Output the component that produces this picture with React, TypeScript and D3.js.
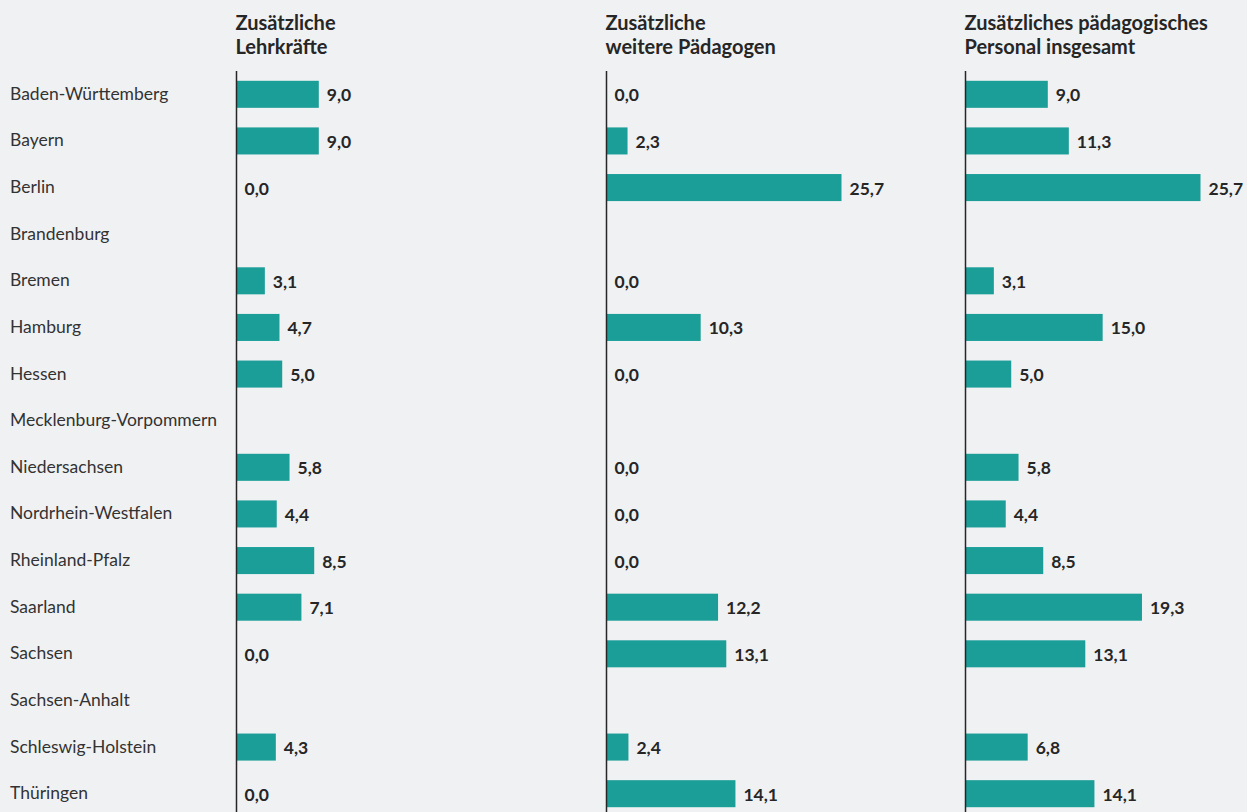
import React, { useRef, useEffect } from 'react';
import * as d3 from 'd3';

const states = [
  'Baden-Württemberg',
  'Bayern',
  'Berlin',
  'Brandenburg',
  'Bremen',
  'Hamburg',
  'Hessen',
  'Mecklenburg-Vorpommern',
  'Niedersachsen',
  'Nordrhein-Westfalen',
  'Rheinland-Pfalz',
  'Saarland',
  'Sachsen',
  'Sachsen-Anhalt',
  'Schleswig-Holstein',
  'Thüringen',
];

// null = no entry for that state
const lehrkraefte = [9.0, 9.0, 0.0, null, 3.1, 4.7, 5.0, null, 5.8, 4.4, 8.5, 7.1, 0.0, null, 4.3, 0.0];
const paedagogen = [0.0, 2.3, 25.7, null, 0.0, 10.3, 0.0, null, 0.0, 0.0, 0.0, 12.2, 13.1, null, 2.4, 14.1];
const insgesamt = [9.0, 11.3, 25.7, null, 3.1, 15.0, 5.0, null, 5.8, 4.4, 8.5, 19.3, 13.1, null, 6.8, 14.1];

const panelTitles = [
  ['Zusätzliche', 'Lehrkräfte'],
  ['Zusätzliche', 'weitere Pädagogen'],
  ['Zusätzliches pädagogisches', 'Personal insgesamt'],
];

const W = 1247;
const H = 812;
const BAR = '#1b9e98';
const INK = '#262626';

const App = () => {
  const ref = useRef<SVGSVGElement>(null);

  useEffect(() => {
    const svg = d3.select(ref.current);
    svg.selectAll('*').remove();

    const font = 'Lato, "Open Sans", sans-serif';
    const series = [lehrkraefte, paedagogen, insgesamt];
    const panelX = [236.5, 606.5, 965.5];

    svg.append('rect').attr('width', W).attr('height', H).attr('fill', '#f0f1f3');

    const y = d3
      .scaleBand()
      .domain(states)
      .range([71, 817])
      .paddingInner(0.42)
      .paddingOuter(0.21);

    // state labels
    svg
      .append('g')
      .selectAll('text')
      .data(states)
      .join('text')
      .attr('x', 10)
      .attr('y', (d) => y(d)! + y.bandwidth() / 2 + 5.5)
      .attr('font-family', font)
      .attr('font-size', 17.5)
      .attr('fill', '#333')
      .text((d) => d);

    const fmt = (v: number) => v.toFixed(1).replace('.', ',');

    series.forEach((vals, i) => {
      const x0 = panelX[i];
      const x = d3.scaleLinear().domain([0, 25.7]).range([x0, x0 + 235]);
      const g = svg.append('g');
      const rows = states.map((s, j) => ({ s, v: vals[j] })).filter((d) => d.v !== null) as { s: string; v: number }[];

      // header
      const title = g
        .append('text')
        .attr('x', x0 - 0.5)
        .attr('y', 29.5)
        .attr('font-family', font)
        .attr('font-size', 20)
        .attr('font-weight', 700)
        .attr('fill', INK);
      panelTitles[i].forEach((line, k) => {
        title
          .append('tspan')
          .attr('x', x0 - 1)
          .attr('dy', k === 0 ? 0 : 24)
          .text(line);
      });

      g.selectAll('rect.bar')
        .data(rows)
        .join('rect')
        .attr('class', 'bar')
        .attr('x', x(0))
        .attr('y', (d) => y(d.s)!)
        .attr('width', (d) => x(d.v) - x(0))
        .attr('height', y.bandwidth())
        .attr('fill', BAR);

      g.selectAll('text.val')
        .data(rows)
        .join('text')
        .attr('class', 'val')
        .attr('x', (d) => x(d.v) + 8)
        .attr('y', (d) => y(d.s)! + y.bandwidth() / 2 + 7)
        .attr('font-family', font)
        .attr('font-size', 17.5)
        .attr('font-weight', 700)
        .attr('fill', INK)
        .text((d) => fmt(d.v));

      g.append('line')
        .attr('x1', x0)
        .attr('x2', x0)
        .attr('y1', 71)
        .attr('y2', H)
        .attr('stroke', INK)
        .attr('stroke-width', 1.5);
    });
  }, []);

  return (
    <svg
      ref={ref}
      width={W}
      height={H}
      style={{ position: 'absolute', top: 0, left: 0, display: 'block' }}
    />
  );
};

export default App;
